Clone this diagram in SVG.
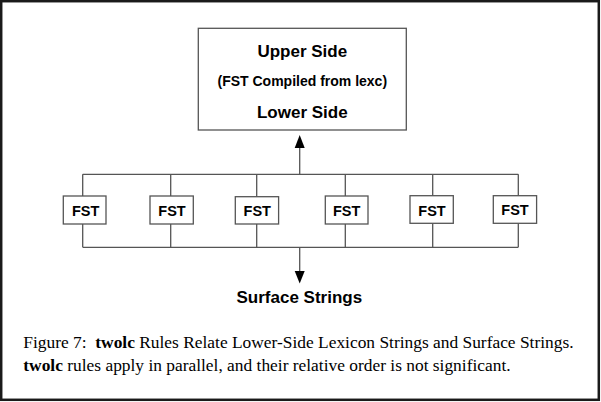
<svg xmlns="http://www.w3.org/2000/svg" width="601" height="402" viewBox="0 0 601 402">
<defs>
<style>
.frame{fill:#fff;stroke:#1a1a1a;stroke-width:2.5}
.box{fill:#fff;stroke:#555;stroke-width:1.3}
.ln{fill:none;stroke:#555;stroke-width:1.3}
.head{fill:#000}
.sans{font-family:"Liberation Sans",Arial,sans-serif;font-weight:bold;fill:#000;text-anchor:middle}
.big{font-size:17px}
.mid{font-size:14px}
.fst{font-size:14.5px}
.cap{font-family:"Liberation Serif","Times New Roman",serif;font-size:17.4px;fill:#000}
</style>
</defs>
<rect class="frame" x="1.2" y="1.2" width="597.6" height="398.6"/>
<g id="upper">
<rect class="box" x="198.3" y="28.3" width="208" height="101.7"/>
<text class="sans big" x="302.3" y="57.3">Upper Side</text>
<text class="sans mid" x="302.3" y="85.7">(FST Compiled from lexc)</text>
<text class="sans big" x="302.3" y="118.3">Lower Side</text>
</g>
<g id="connectors">
<path class="ln" d="M82.7,174.3H518.3M82.7,247.3H518.3"/>
<path class="ln" d="M82.7,174.3V196M170.7,174.3V196M256.7,174.3V196.7M345.3,174.3V196M432.7,174.3V195.7M518.3,174.3V195.7"/>
<path class="ln" d="M82.7,224V247.3M170.7,224V247.3M256.7,224V247.3M345.3,224V247.3M432.7,223.3V247.3M518.3,223.3V247.3"/>
<path class="ln" d="M299.7,174.3V147"/>
<polygon class="head" points="299.7,135 294.7,148 304.7,148"/>
<path class="ln" d="M299.7,247.3V272"/>
<polygon class="head" points="299.7,283.5 294.7,271 304.7,271"/>
</g>
<g id="fst1"><rect class="box" x="63.3" y="196" width="42.7" height="28"/><text class="sans fst" x="85.7" y="216">FST</text></g>
<g id="fst2"><rect class="box" x="150" y="196" width="43.3" height="28"/><text class="sans fst" x="172" y="216">FST</text></g>
<g id="fst3"><rect class="box" x="235.3" y="196.7" width="43.3" height="27.3"/><text class="sans fst" x="257.3" y="216.3">FST</text></g>
<g id="fst4"><rect class="box" x="325.3" y="196" width="42.7" height="28"/><text class="sans fst" x="346.7" y="216">FST</text></g>
<g id="fst5"><rect class="box" x="410" y="195.7" width="43.3" height="27.6"/><text class="sans fst" x="432" y="215.5">FST</text></g>
<g id="fst6"><rect class="box" x="493.3" y="195.7" width="43.3" height="27.6"/><text class="sans fst" x="515" y="214.5">FST</text></g>
<g id="surface">
<text class="sans big" x="299.3" y="303.3">Surface Strings</text>
</g>
<g id="caption">
<text class="cap" x="23.3" y="347.5">Figure 7:&#160; <tspan font-weight="bold">twolc</tspan> Rules Relate Lower-Side Lexicon Strings and Surface Strings.</text>
<text class="cap" x="23.3" y="370.5"><tspan font-weight="bold">twolc</tspan> rules apply in parallel, and their relative order is not significant.</text>
</g>
</svg>
